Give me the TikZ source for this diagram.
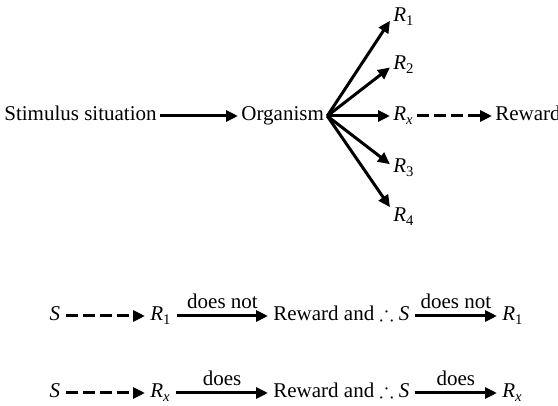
\documentclass[tikz,border=0pt]{standalone}
\usepackage{amssymb}
\usepackage{fontspec}
\setmainfont{Liberation Serif}
\usetikzlibrary{arrows.meta}
\newcommand{\Rsub}[1]{\textit{R}\textsubscript{#1}}

\begin{document}
\begin{tikzpicture}[x=0.5pt,y=-0.5pt,>={Triangle[length=6pt,width=5.5pt]},font=\fontsize{10.5}{12}\selectfont,
term/.style={inner sep=1.5pt,text height=7.5pt,text depth=2.5pt},rowterm/.style={term,inner sep=2.5pt},
link/.style={->,line width=1.5pt},dashlink/.style={->,line width=1.5pt,dash pattern=on 6pt off 2.5pt},
edgelabel/.style={midway,above=2pt,inner sep=1pt}]
\useasboundingbox (0,0) rectangle (558,406);
\node[term,anchor=east] (stim) at (160,116) {Stimulus situation};
\node[term,anchor=west] (org) at (238,116) {Organism};
\node[term,anchor=west] (r1) at (390,17) {\Rsub{1}};
\node[term,anchor=west] (r2) at (390,65) {\Rsub{2}};
\node[term,anchor=west] (rx) at (390,116) {\Rsub{\textit{x}}};
\node[term,anchor=west] (r3) at (390,168) {\Rsub{3}};
\node[term,anchor=west] (r4) at (390,217) {\Rsub{4}};
\node[term,anchor=west] (rew) at (492,116) {Reward};
\draw[link] (stim) -- (org);
\foreach \r/\a in {r1/195,r2/190,rx/west,r3/165,r4/145}{\draw[link] (org.east) -- (\r.\a);}
\draw[dashlink] (rx) -- (rew);
\node[rowterm] (s1) at (55,316) {\textit{S}};
\node[rowterm,anchor=west] (ra1) at (145,316) {\Rsub{1}};
\node[rowterm,anchor=west] (rw1) at (268,316) {Reward and $\therefore$ \textit{S}};
\node[rowterm,anchor=west] (rb1) at (497,316) {\Rsub{1}};
\draw[dashlink] (s1) -- (ra1);
\draw[link] (ra1) -- (rw1) node[edgelabel] {does not};
\draw[link] (rw1) -- (rb1) node[edgelabel] {does not};
\node[rowterm] (s2) at (55,393) {\textit{S}};
\node[rowterm,anchor=west] (ra2) at (145,393) {\Rsub{\textit{x}}};
\node[rowterm,anchor=west] (rw2) at (268,393) {Reward and $\therefore$ \textit{S}};
\node[rowterm,anchor=west] (rb2) at (497,393) {\Rsub{\textit{x}}};
\draw[dashlink] (s2) -- (ra2);
\draw[link] (ra2) -- (rw2) node[edgelabel] {does};
\draw[link] (rw2) -- (rb2) node[edgelabel] {does};
\end{tikzpicture}
\end{document}
